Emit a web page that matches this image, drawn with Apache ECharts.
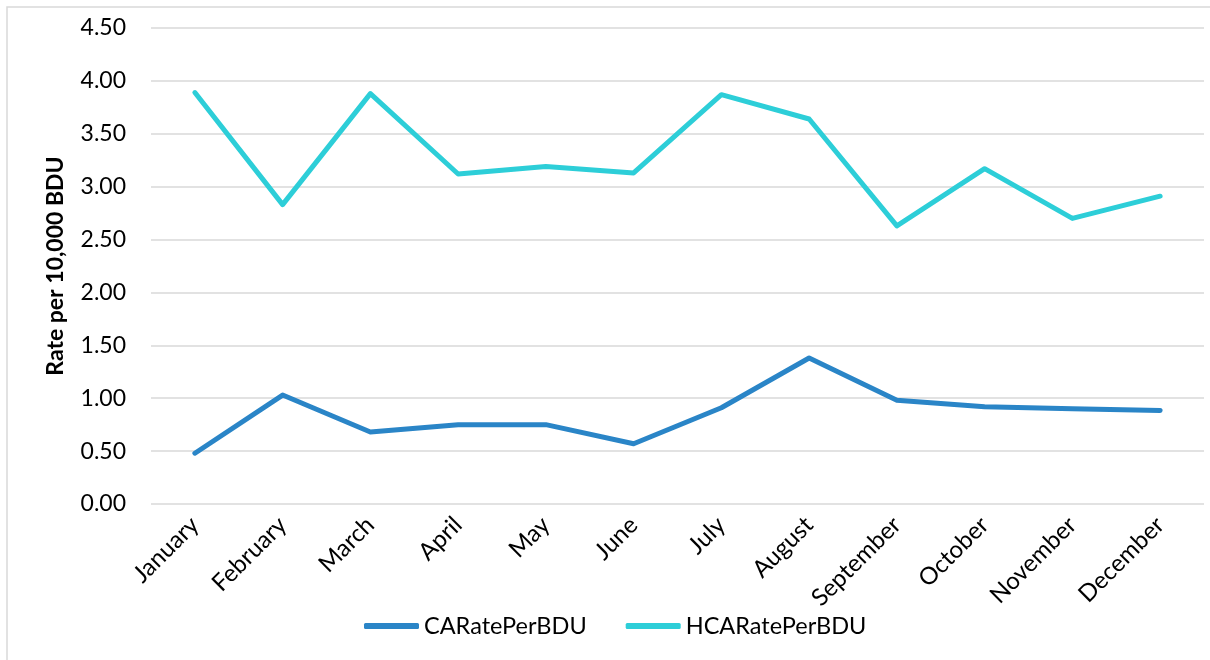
<!DOCTYPE html>
<html>
<head>
<meta charset="utf-8">
<script src="https://cdn.jsdelivr.net/npm/echarts@6/dist/echarts.min.js"></script>
<style>
  html, body { margin: 0; padding: 0; background: #fff; }
  #chart { width: 1210px; height: 660px; }
</style>
</head>
<body>
<div id="chart"></div>
<script>
const months = ['January', 'February', 'March', 'April', 'May', 'June',
  'July', 'August', 'September', 'October', 'November', 'December'];
const caRate = [0.48, 1.03, 0.68, 0.75, 0.75, 0.57, 0.91, 1.38, 0.98, 0.92, 0.90, 0.885];
const hcaRate = [3.89, 2.83, 3.88, 3.12, 3.19, 3.13, 3.87, 3.64, 2.63, 3.17, 2.70, 2.91];

const font = 'Lato';
const chart = echarts.init(document.getElementById('chart'));
chart.setOption({
  animation: false,
  textStyle: { fontFamily: font, color: '#000' },
  graphic: [{
    type: 'rect',
    shape: { x: 7, y: 7, width: 1220, height: 680 },
    style: { fill: 'none', stroke: '#d9d9d9', lineWidth: 1.5 },
    silent: true
  }],
  grid: { left: 151, right: 6, top: 28, bottom: 156 },
  legend: {
    left: 359, top: 609,
    itemWidth: 55, itemHeight: 6, itemGap: 39,
    icon: 'roundRect',
    textStyle: { fontFamily: font, fontSize: 23.5, color: '#000' },
    data: ['CARatePerBDU', 'HCARatePerBDU']
  },
  xAxis: {
    type: 'category',
    data: months,
    boundaryGap: true,
    axisLine: { show: false },
    axisTick: { show: false },
    axisLabel: { rotate: 45, margin: 17, fontSize: 24, color: '#000', fontFamily: font }
  },
  yAxis: {
    type: 'value',
    min: 0, max: 4.5, interval: 0.5,
    name: 'Rate per 10,000 BDU',
    nameLocation: 'middle',
    nameGap: 84,
    nameTextStyle: { fontSize: 23, fontWeight: 'bold', color: '#000', fontFamily: font },
    axisLine: { show: false },
    axisTick: { show: false },
    axisLabel: {
      margin: 25, fontSize: 23, color: '#000', fontFamily: font,
      formatter: v => v.toFixed(2)
    },
    splitLine: { lineStyle: { color: '#d9d9d9', width: 1.5 } }
  },
  series: [{
    name: 'CARatePerBDU',
    type: 'line',
    data: caRate,
    symbol: 'none',
    color: '#2A85C7',
    lineStyle: { width: 5, cap: 'round', join: 'round' }
  }, {
    name: 'HCARatePerBDU',
    type: 'line',
    data: hcaRate,
    symbol: 'none',
    color: '#2DCED8',
    lineStyle: { width: 5, cap: 'round', join: 'round' }
  }]
});
</script>
</body>
</html>
